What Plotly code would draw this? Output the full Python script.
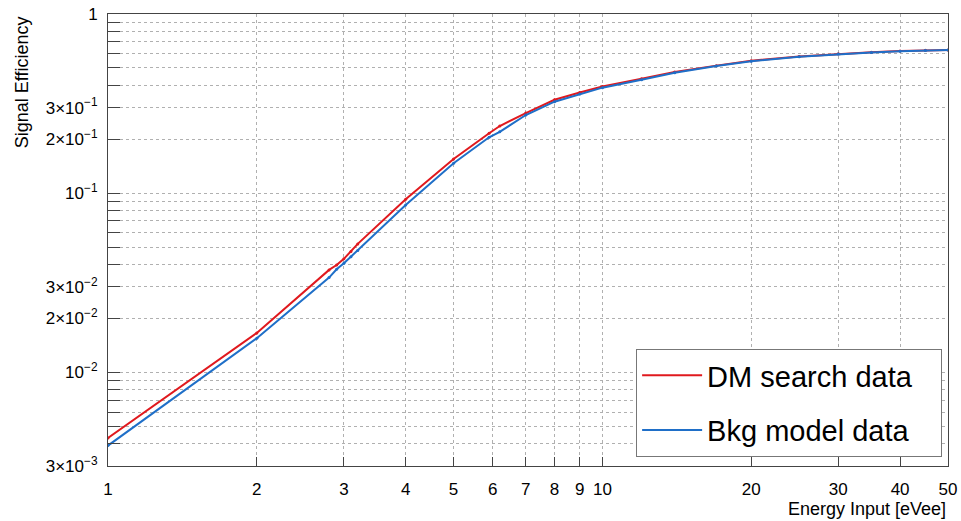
import plotly.graph_objects as go

# Data
energy = [1, 2, 2.8, 2.9, 3.0, 3.1, 3.2, 4, 5, 5.9, 6.2, 7, 8, 9, 10, 12, 14, 17, 20, 25, 30, 35, 40, 45, 50]
dm_search = [4.3e-3, 0.0166, 0.0373, 0.0397, 0.043, 0.0472, 0.0521, 0.0925, 0.155, 0.216, 0.237, 0.280,
             0.332, 0.365, 0.394, 0.435, 0.475, 0.515, 0.548, 0.580, 0.600, 0.612, 0.622, 0.627, 0.630]
bkg_model = [3.9e-3, 0.0155, 0.0338, 0.0376, 0.0406, 0.0442, 0.0478, 0.0859, 0.147, 0.205, 0.220, 0.273,
             0.324, 0.358, 0.388, 0.430, 0.470, 0.512, 0.545, 0.578, 0.598, 0.610, 0.620, 0.626, 0.630]

x_ticks = [1, 2, 3, 4, 5, 6, 7, 8, 9, 10, 20, 30, 40, 50]
x_ticktext = ["1", "2", "3", "4", "5", "6", "7", "8", "9", "10", "20", "30", "40", "50"]
y_ticks = [3e-3, 1e-2, 2e-2, 3e-2, 1e-1, 2e-1, 3e-1, 1]
y_ticktext = ["3×10<sup>−3</sup>", "10<sup>−2</sup>", "2×10<sup>−2</sup>", "3×10<sup>−2</sup>",
              "10<sup>−1</sup>", "2×10<sup>−1</sup>", "3×10<sup>−1</sup>", "1"]
y_minor = [4e-3, 5e-3, 6e-3, 7e-3, 8e-3, 9e-3, 4e-2, 5e-2, 6e-2, 7e-2, 8e-2, 9e-2,
           4e-1, 5e-1, 6e-1, 7e-1, 8e-1, 9e-1]

RED = "#e0191e"
BLUE = "#1f6fc8"
FONT = "Liberation Sans, Arial, sans-serif"
PAD = "\u00a0\u00a0\u00a0"

fig = go.Figure()
for name, vals, col, grp in [("DM search data", dm_search, RED, "a"),
                             ("Bkg model data", bkg_model, BLUE, "b")]:
    fig.add_trace(go.Scatter(x=energy, y=vals, mode="lines", name=name + PAD,
                             legendgroup=grp, line=dict(color=col, width=2)))
    fig.add_trace(go.Scatter(x=energy, y=vals, mode="markers", name=name,
                             legendgroup=grp, showlegend=False,
                             marker=dict(color=col, size=3)))

grid = dict(showgrid=True, gridcolor="#b0b0b0", griddash="dot", gridwidth=1)

fig.update_xaxes(type="log", range=[0, 1.69897], tickmode="array", tickvals=x_ticks,
                 ticktext=x_ticktext, ticks="inside", ticklen=9, tickcolor="#444",
                 showline=True, linecolor="#444", linewidth=1, mirror=True,
                 tickfont=dict(family=FONT, size=17, color="black"),
                 ticklabelstandoff=8, zeroline=False, automargin=False, **grid)
fig.update_yaxes(type="log", range=[-2.5229, 0], tickmode="array", tickvals=y_ticks,
                 ticktext=y_ticktext, ticks="inside", ticklen=12, tickcolor="#444",
                 showline=True, linecolor="#444", linewidth=1, mirror=True,
                 tickfont=dict(family=FONT, size=17, color="black"),
                 ticklabelstandoff=6, zeroline=False, automargin=False,
                 minor=dict(tickmode="array", tickvals=y_minor, ticks="inside", ticklen=12,
                            tickcolor="#444", showgrid=True, gridcolor="#b0b0b0",
                            griddash="dot", gridwidth=1),
                 **grid)

fig.add_annotation(text="Signal Efficiency", textangle=-90, xref="paper", yref="paper",
                   x=-0.102, y=1.0, xanchor="center", yanchor="top", showarrow=False,
                   font=dict(family=FONT, size=18, color="black"))
fig.add_annotation(text="Energy Input [eVee]", xref="paper", yref="paper",
                   x=1.0, y=-0.095, xanchor="right", yanchor="middle", showarrow=False,
                   font=dict(family=FONT, size=18, color="black"))

fig.update_layout(
    width=961, height=521,
    margin=dict(l=108, r=13, t=14, b=55),
    paper_bgcolor="white", plot_bgcolor="white",
    font=dict(family=FONT, color="black"),
    legend=dict(x=0.993, y=0.02, xanchor="right", yanchor="bottom",
                bgcolor="white", bordercolor="#777", borderwidth=1,
                font=dict(family=FONT, size=29, color="black"),
                tracegroupgap=14, itemwidth=60),
)

fig.write_html("out.html")
